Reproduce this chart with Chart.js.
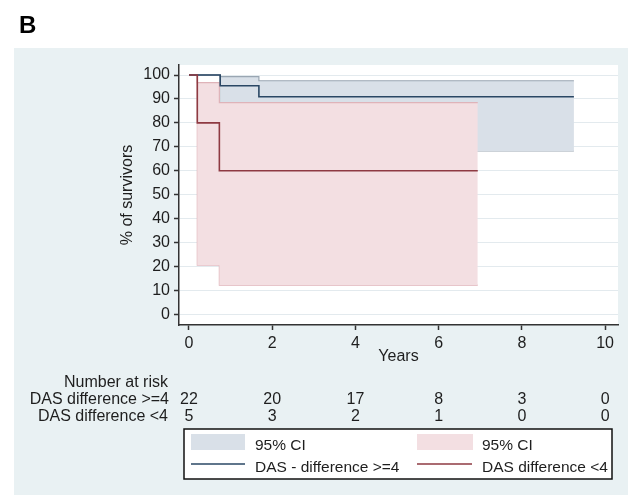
<!DOCTYPE html>
<html>
<head>
<meta charset="utf-8">
<title>Survival by DAS difference</title>
<script src="https://cdn.jsdelivr.net/npm/chart.js@4.4.1/dist/chart.umd.min.js"></script>
<style>
  html, body { margin: 0; padding: 0; background: #fff; }
  canvas { display: block; }
</style>
</head>
<body>
<canvas id="SurvivalChart" width="634" height="495"></canvas>
<script>
// Kaplan-Meier curves (time in years, % of survivors)
const highTimes = [0, 0.75, 1.68, 9.25];
const highSurv = [100, 95.5, 90.9, 90.9];
const highUpper = [100, 99.3, 97.6, 97.6];
const highLower = [100, 72.0, 68.3, 68.3];

const lowTimes = [0, 0.2, 0.73, 6.94];
const lowSurv = [100, 80, 60, 60];
const lowUpper = [100, 96.8, 88.5, 88.5];
const lowLower = [100, 20.6, 12.3, 12.3];

// Axis ticks
const xTickValues = [0, 2, 4, 6, 8, 10];
const yTickValues = [0, 10, 20, 30, 40, 50, 60, 70, 80, 90, 100];

// Number at risk table (one value per x tick)
const riskTitle = 'Number at risk';
const riskGroups = ['DAS difference >=4', 'DAS difference <4'];
const riskHigh = [22, 20, 17, 8, 3, 0];
const riskLow = [5, 3, 2, 1, 0, 0];

// Legend texts
const ciLabels = ['95% CI', '95% CI'];
const lineLabels = ['DAS - difference >=4', 'DAS difference <4'];

// Colours
const navy = '#2a4764';
const maroon = '#8e3a42';
const blueFill = '#d9e0e8';
const blueEdge = '#9aa6b2';
const pinkFill = '#f3dfe2';
const pinkEdge = '#dfb3b9';
const textColor = '#1e1e1e';
const FONT = '"Liberation Sans", Arial, sans-serif';

function toPoints(times, values) {
  return times.map((t, i) => ({ x: t, y: values[i] }));
}

// Background: white page, light blue graph region, white plot region
const stataBackground = {
  id: 'stataBackground',
  beforeDraw(chart) {
    const { ctx, chartArea } = chart;
    ctx.save();
    ctx.fillStyle = '#ffffff';
    ctx.fillRect(0, 0, chart.width, chart.height);
    ctx.fillStyle = '#e9f1f3';
    ctx.fillRect(14, 48, 614, chart.height - 48);
    ctx.fillStyle = '#ffffff';
    ctx.fillRect(chartArea.left, chartArea.top, chartArea.right - chartArea.left, chartArea.bottom - chartArea.top);
    ctx.restore();
  }
};

// Panel letter, number at risk table and framed legend
const stataExtras = {
  id: 'stataExtras',
  afterDraw(chart) {
    const ctx = chart.ctx;
    const xScale = chart.scales.x;
    ctx.save();

    // panel letter
    ctx.fillStyle = '#000';
    ctx.font = 'bold 24px ' + FONT;
    ctx.textAlign = 'left';
    ctx.textBaseline = 'alphabetic';
    ctx.fillText('B', 19, 33);

    // number at risk
    ctx.font = '16px ' + FONT;
    ctx.fillStyle = textColor;
    ctx.textAlign = 'right';
    ctx.fillText(riskTitle, 168, 387);
    ctx.fillText(riskGroups[0], 169, 404);
    ctx.fillText(riskGroups[1], 168, 421);
    ctx.textAlign = 'center';
    xTickValues.forEach((t, i) => {
      const px = xScale.getPixelForValue(t);
      ctx.fillText(String(riskHigh[i]), px, 404);
      ctx.fillText(String(riskLow[i]), px, 421);
    });

    // legend box
    ctx.fillStyle = '#ffffff';
    ctx.fillRect(184, 429, 428, 50);
    ctx.strokeStyle = '#111';
    ctx.lineWidth = 1.5;
    ctx.strokeRect(184, 429, 428, 50);

    ctx.fillStyle = blueFill;
    ctx.fillRect(191, 434, 54, 16);
    ctx.fillStyle = pinkFill;
    ctx.fillRect(417, 434, 56, 16);

    ctx.lineWidth = 1.5;
    ctx.strokeStyle = navy;
    ctx.beginPath(); ctx.moveTo(191, 464); ctx.lineTo(245, 464); ctx.stroke();
    ctx.strokeStyle = maroon;
    ctx.beginPath(); ctx.moveTo(417, 464); ctx.lineTo(472, 464); ctx.stroke();

    ctx.font = '15.5px ' + FONT;
    ctx.fillStyle = textColor;
    ctx.textAlign = 'left';
    ctx.fillText(ciLabels[0], 255, 450);
    ctx.fillText(ciLabels[1], 482, 450);
    ctx.fillText(lineLabels[0], 255, 472);
    ctx.fillText(lineLabels[1], 482, 472);

    ctx.restore();
  }
};

document.addEventListener('DOMContentLoaded', function() {
  const ctx = document.getElementById('SurvivalChart').getContext('2d');

  const stepLine = (label, times, values, color, width, order) => ({
    label,
    data: toPoints(times, values),
    borderColor: color,
    borderWidth: width,
    stepped: 'before',
    pointRadius: 0,
    fill: false,
    order
  });

  const datasets = [
    stepLine(lineLabels[1], lowTimes, lowSurv, maroon, 1.6, 0),
    stepLine(lineLabels[0], highTimes, highSurv, navy, 1.6, 1),
    stepLine('low lower', lowTimes, lowLower, pinkEdge, 1.2, 3),
    Object.assign(stepLine(ciLabels[1], lowTimes, lowUpper, pinkEdge, 1.2, 2),
      { fill: { target: 2 }, backgroundColor: pinkFill }),
    stepLine('high lower', highTimes, highLower, blueEdge, 1.2, 5),
    Object.assign(stepLine(ciLabels[0], highTimes, highUpper, blueEdge, 1.2, 4),
      { fill: { target: 4 }, backgroundColor: blueFill })
  ];

  new Chart(ctx, {
    type: 'line',
    data: { datasets },
    options: {
      responsive: false,
      animation: false,
      layout: { padding: { left: 110, top: 65, right: 16, bottom: 125 } },
      plugins: {
        legend: { display: false },
        tooltip: { enabled: false }
      },
      scales: {
        x: {
          type: 'linear',
          min: -0.24,
          max: 10.31,
          afterBuildTicks: s => { s.ticks = xTickValues.map(v => ({ value: v })); },
          afterFit: s => { s.height = 45; },
          grid: { drawOnChartArea: false, tickLength: 5, tickColor: '#333', tickWidth: 1.5 },
          border: { display: true, color: '#333', width: 1.5 },
          ticks: { color: textColor, font: { family: FONT, size: 16 }, padding: 4, maxRotation: 0 },
          title: {
            display: true,
            text: 'Years',
            color: textColor,
            font: { family: FONT, size: 16 },
            padding: { top: 0, bottom: 4 }
          }
        },
        y: {
          type: 'linear',
          min: -4.38,
          max: 104.18,
          afterBuildTicks: s => { s.ticks = yTickValues.map(v => ({ value: v })); },
          afterFit: s => { s.width = 69; },
          grid: { color: '#e3eaee', lineWidth: 1, tickLength: 5, tickColor: '#333', tickWidth: 1.5 },
          border: { display: true, color: '#333', width: 1.5 },
          ticks: { color: textColor, font: { family: FONT, size: 16 }, padding: 4 },
          title: {
            display: true,
            text: '% of survivors',
            color: textColor,
            font: { family: FONT, size: 16 },
            padding: { top: 8, bottom: 0 }
          }
        }
      }
    },
    plugins: [stataBackground, stataExtras]
  });
});
</script>
</body>
</html>
